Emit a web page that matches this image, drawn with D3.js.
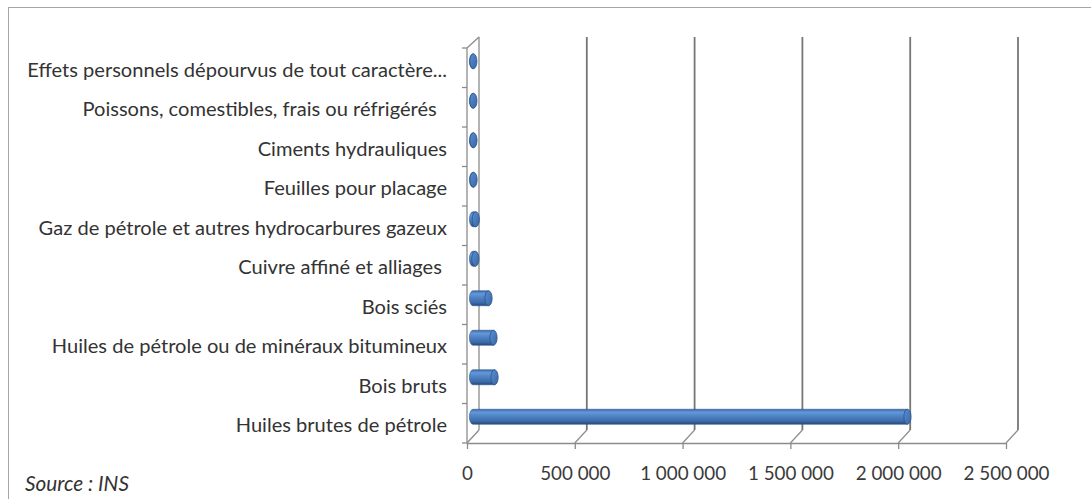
<!DOCTYPE html>
<html>
<head>
<meta charset="utf-8">
<script src="https://cdn.jsdelivr.net/npm/d3@7"></script>
<style>
  html, body { margin: 0; padding: 0; background: #fff; }
  svg { display: block; }
  text { white-space: pre; }
</style>
</head>
<body>
<svg id="chart" width="1091" height="499"></svg>
<script>
// Principaux produits exportés (valeurs), source INS
const categories = [
  "Effets personnels dépourvus de tout caractère...",
  "Poissons, comestibles, frais ou réfrigérés  ",
  "Ciments hydrauliques",
  "Feuilles pour placage",
  "Gaz de pétrole et autres hydrocarbures gazeux",
  "Cuivre affiné et alliages ",
  "Bois sciés",
  "Huiles de pétrole ou de minéraux bitumineux",
  "Bois bruts",
  "Huiles brutes de pétrole"
];
const values = [1500, 1800, 2200, 2600, 13000, 11000, 72000, 95000, 100000, 2015000];
const tickValues = [0, 500000, 1000000, 1500000, 2000000, 2500000];
const sourceLabel = "Source : INS";

const svg = d3.select("#chart");
const FONT = "Lato, 'Open Sans', 'DejaVu Sans', sans-serif";

// size a font so that a sample string spans the given width
function fitSize(sample, width, style) {
  const t = svg.append("text").attr("font-family", FONT).attr("font-size", 20)
    .attr("font-style", style || "normal").text(sample);
  const w = t.node().getComputedTextLength();
  t.remove();
  return 20 * width / w;
}
const labelSize = fitSize("Effets personnels dépourvus de tout caractère...", 420);
const tickSize = fitSize("1 000 000", 86);
const sourceSize = fitSize("Source : INS", 104, "italic");

// outer frame
svg.append("rect").attr("x", 8.5).attr("y", 7.5).attr("width", 1100).attr("height", 520)
  .attr("fill", "none").attr("stroke", "#a6a6a6").attr("stroke-width", 1);

// plot geometry: front plane + depth offset for the 3D look
const plotLeft = 467, plotBottom = 443, plotTop = 48;
const depth = { dx: 12, dy: -13 };
const x = d3.scaleLinear().domain([0, 2500000]).range([plotLeft, 1006]);
const y = d3.scaleBand().domain(categories).range([plotTop, plotBottom]).padding(0);

const fr = d3.formatLocale({ decimal: ",", thousands: " ", grouping: [3], currency: ["", " €"] });
const fmt = fr.format(",");

// back wall gridlines with their diagonals down to the floor
const grid = svg.append("g");
tickValues.forEach(v => {
  const xf = x(v), xb = x(v) + depth.dx;
  if (v === 0) return;
  grid.append("line").attr("x1", xb).attr("x2", xb).attr("y1", plotTop + depth.dy + 2).attr("y2", plotBottom + depth.dy)
    .attr("stroke", "#767676").attr("stroke-width", 1.8);
  grid.append("line").attr("x1", xb).attr("y1", plotBottom + depth.dy).attr("x2", xf).attr("y2", plotBottom)
    .attr("stroke", "#8c8c8c").attr("stroke-width", 1.2);
});

// left wall
const wall = svg.append("g").attr("stroke", "#8c8c8c").attr("stroke-width", 1.3).attr("fill", "none");
wall.append("line").attr("x1", plotLeft).attr("x2", plotLeft).attr("y1", plotTop).attr("y2", plotBottom);
wall.append("line").attr("x1", plotLeft + depth.dx).attr("x2", plotLeft + depth.dx).attr("y1", plotTop + depth.dy + 2).attr("y2", plotBottom + depth.dy);
wall.append("line").attr("x1", plotLeft).attr("y1", plotTop).attr("x2", plotLeft + depth.dx).attr("y2", plotTop + depth.dy + 2);
wall.append("line").attr("x1", plotLeft).attr("y1", plotBottom).attr("x2", plotLeft + depth.dx).attr("y2", plotBottom + depth.dy);
// category boundary ticks
d3.range(categories.length + 1).forEach(i => {
  const yy = plotTop + i * y.step();
  wall.append("line").attr("x1", plotLeft - 5).attr("x2", plotLeft).attr("y1", yy).attr("y2", yy);
});

// value axis on the floor
const xAxis = svg.append("g").attr("transform", `translate(0,${plotBottom})`)
  .call(d3.axisBottom(x).tickValues(tickValues).tickFormat(fmt).tickSize(6).tickSizeOuter(0).tickPadding(18));
xAxis.select(".domain").attr("stroke", "#8c8c8c").attr("stroke-width", 1.3);
xAxis.selectAll(".tick line").attr("stroke", "#8c8c8c").attr("stroke-width", 1.3);
xAxis.selectAll(".tick text").attr("font-family", FONT).attr("font-size", tickSize).attr("fill", "#3a3a3a");

// category labels
const yAxis = svg.append("g").attr("transform", `translate(${plotLeft},0)`)
  .call(d3.axisLeft(y).tickSize(0).tickPadding(20));
yAxis.select(".domain").remove();
yAxis.selectAll(".tick text").attr("font-family", FONT).attr("font-size", labelSize)
  .attr("fill", "#333").attr("dy", "0.45em");

// cylinder shading
const defs = svg.append("defs");
const g1 = defs.append("linearGradient").attr("id", "cyl").attr("x1", 0).attr("y1", 0).attr("x2", 0).attr("y2", 1);
[[0, "#3a6aa8"], [0.2, "#6498da"], [0.42, "#5186c8"], [0.78, "#3e6cab"], [1, "#264a78"]]
  .forEach(([o, c]) => g1.append("stop").attr("offset", o).attr("stop-color", c));
const g2 = defs.append("linearGradient").attr("id", "cap").attr("x1", 0).attr("y1", 0).attr("x2", 1).attr("y2", 1);
[[0, "#5a8fd4"], [1, "#3767a5"]].forEach(([o, c]) => g2.append("stop").attr("offset", o).attr("stop-color", c));

// bars: cylinders in the mid-depth plane
const mid = { dx: depth.dx / 2, dy: depth.dy / 2 };
const r = 7.5, rx = 3.6;
const bars = svg.append("g").selectAll("g").data(categories.map((c, i) => ({ c, v: values[i] }))).join("g");
bars.each(function (d) {
  const g = d3.select(this);
  const cy = y(d.c) + y.bandwidth() / 2 + mid.dy;
  const x0 = x(0) + mid.dx, x1 = x(d.v) + mid.dx;
  g.append("path")
    .attr("d", `M${x0},${cy - r} L${x1},${cy - r} L${x1},${cy + r} L${x0},${cy + r} A${rx},${r} 0 0 1 ${x0},${cy - r} Z`)
    .attr("fill", "url(#cyl)").attr("stroke", "#2f5a92").attr("stroke-width", 0.6);
  g.append("ellipse").attr("cx", x1).attr("cy", cy).attr("rx", rx).attr("ry", r)
    .attr("fill", "url(#cap)").attr("stroke", "#2b5288").attr("stroke-width", 0.8);
});

// source note
svg.append("text").attr("x", 25).attr("y", 491).attr("font-family", FONT)
  .attr("font-style", "italic").attr("font-size", sourceSize).attr("fill", "#333").text(sourceLabel);
</script>
</body>
</html>
